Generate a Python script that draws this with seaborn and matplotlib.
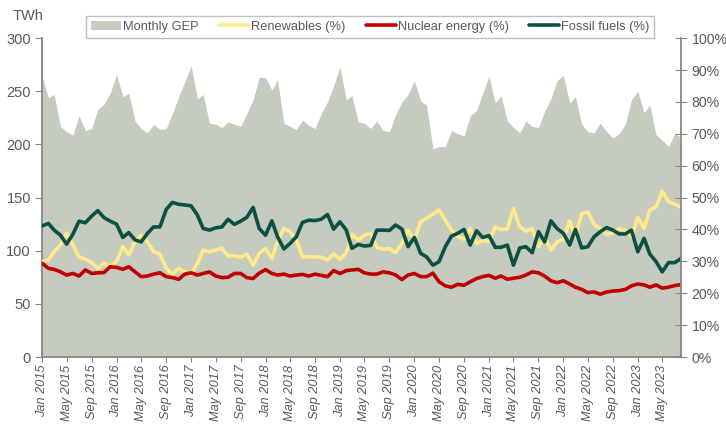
import numpy as np
import pandas as pd
import seaborn as sns
import matplotlib.pyplot as plt
from matplotlib.patches import Patch
from matplotlib.lines import Line2D

# Monthly data, Jan 2015 - Aug 2023
months = pd.date_range("2015-01-01", "2023-08-01", freq="MS")

gep_twh = [
    264, 244, 247, 217, 212, 209, 227, 213, 215, 233, 238, 248,
    266, 245, 248, 222, 215, 211, 219, 214, 215, 229, 245, 259,
    274, 243, 247, 220, 219, 216, 221, 219, 217, 229, 242, 263,
    263, 251, 261, 220, 217, 214, 223, 218, 215, 229, 240, 255,
    273, 242, 246, 221, 220, 215, 222, 213, 212, 228, 240, 247,
    260, 241, 237, 196, 198, 198, 213, 210, 208, 227, 232, 248,
    264, 239, 246, 222, 216, 211, 222, 217, 216, 231, 243, 260,
    265, 239, 245, 219, 212, 211, 220, 212, 206, 210, 219, 242,
    250, 230, 237, 209, 204, 198, 210, 207,
]

renewables_pct = [
    29.9, 30.4, 33.0, 35.1, 38.8, 35.1, 31.4, 30.7, 29.6, 27.8, 29.4, 28.5,
    29.9, 34.6, 32.0, 36.1, 38.2, 36.1, 33.0, 32.3, 27.8, 25.9, 27.8, 26.7,
    25.9, 29.4, 33.5, 33.0, 33.5, 34.1, 31.7, 31.7, 31.3, 32.3, 28.8, 32.5,
    34.1, 30.9, 36.1, 40.3, 39.3, 36.7, 31.4, 31.4, 31.4, 31.3, 30.4, 32.3,
    30.6, 32.7, 38.5, 36.7, 38.2, 38.8, 34.4, 33.8, 34.0, 32.7, 35.6, 39.8,
    36.7, 42.4, 43.5, 44.8, 46.1, 42.9, 39.8, 37.9, 36.9, 40.3, 35.6, 36.5,
    36.3, 40.8, 40.0, 40.1, 46.6, 40.8, 39.5, 40.3, 34.6, 37.7, 33.5, 36.1,
    36.9, 42.7, 37.7, 45.0, 45.5, 41.6, 40.3, 38.6, 38.8, 40.3, 39.8, 37.7,
    43.8, 40.3, 46.1, 47.1, 52.0, 48.7, 48.0, 46.9,
]

nuclear_pct = [
    29.4, 27.8, 27.5, 26.7, 25.7, 26.2, 25.4, 27.3, 26.2, 26.4, 26.5, 28.3,
    28.1, 27.5, 28.3, 26.7, 25.2, 25.4, 26.0, 26.4, 25.2, 24.9, 24.4, 26.0,
    26.4, 25.7, 26.2, 26.7, 25.4, 24.9, 25.0, 26.2, 26.2, 24.9, 24.6, 26.3,
    27.4, 26.2, 25.7, 26.0, 25.4, 25.7, 25.9, 25.4, 26.0, 25.6, 25.2, 27.1,
    26.2, 27.1, 27.3, 27.5, 26.4, 26.0, 26.0, 26.7, 26.4, 25.7, 24.3, 25.7,
    26.2, 25.2, 25.2, 26.3, 23.6, 22.3, 21.9, 22.8, 22.5, 23.6, 24.6, 25.2,
    25.6, 24.7, 25.4, 24.4, 24.7, 25.0, 25.7, 26.7, 26.4, 25.4, 23.9, 23.3,
    23.9, 22.9, 21.9, 21.2, 20.2, 20.4, 19.7, 20.4, 20.7, 20.8, 21.2, 22.3,
    22.9, 22.6, 21.9, 22.6, 21.6, 21.9, 22.4, 22.7,
]

fossil_pct = [
    41.1, 41.9, 39.8, 38.2, 35.4, 38.5, 42.6, 42.1, 44.2, 45.9, 43.7, 42.6,
    41.7, 37.5, 39.0, 36.7, 36.1, 38.8, 40.8, 40.8, 46.3, 48.5, 47.9, 47.7,
    47.4, 44.5, 40.3, 39.8, 40.5, 40.8, 43.2, 41.6, 42.6, 43.8, 46.9, 40.3,
    38.2, 42.7, 37.7, 33.9, 35.6, 37.7, 42.2, 42.9, 42.8, 43.2, 44.7, 40.1,
    42.4, 39.8, 34.1, 35.3, 34.8, 35.0, 39.8, 39.8, 39.7, 41.4, 40.1, 34.6,
    37.5, 32.5, 31.4, 28.8, 29.9, 34.6, 37.9, 38.8, 40.0, 35.1, 39.6, 37.5,
    38.1, 34.4, 34.4, 35.1, 28.8, 34.2, 34.6, 32.7, 39.3, 36.1, 42.7, 40.3,
    38.8, 35.1, 40.0, 34.2, 34.6, 37.7, 39.3, 40.6, 39.8, 38.6, 38.6, 39.8,
    33.0, 37.2, 32.3, 29.9, 26.7, 29.6, 29.6, 30.9,
]

df = pd.DataFrame({
    "month": months,
    "gep": gep_twh,
    "renewables": renewables_pct,
    "nuclear": nuclear_pct,
    "fossil": fossil_pct,
})

sns.set_style("white")
plt.rcParams["font.family"] = ["Liberation Sans", "DejaVu Sans"]

area_color = "#c6cbc0"
ren_color = "#ffe98a"
nuc_color = "#c00000"
fos_color = "#0b5142"
axis_gray = "#868686"
text_gray = "#595959"

fig, ax = plt.subplots(figsize=(7.26, 4.24), dpi=100)
fig.subplots_adjust(left=0.058, right=0.938, bottom=0.158, top=0.910)

# GEP as an area on the left axis
ax.fill_between(df["month"], 0, df["gep"], color=area_color, linewidth=0)
ax.set_ylim(0, 300)
ax.set_yticks(range(0, 301, 50))
ax.set_xlim(months[0], months[-1])

# Shares on the right axis
ax2 = ax.twinx()
sns.lineplot(data=df, x="month", y="renewables", ax=ax2, color=ren_color, lw=2.6)
sns.lineplot(data=df, x="month", y="nuclear", ax=ax2, color=nuc_color, lw=2.6)
sns.lineplot(data=df, x="month", y="fossil", ax=ax2, color=fos_color, lw=2.6)
ax2.set_ylim(0, 100)
ax2.set_yticks(range(0, 101, 10))
ax2.set_yticklabels([f"{v}%" for v in range(0, 101, 10)])
ax2.set_xlim(months[0], months[-1])
ax2.set_xlabel("")
ax2.set_ylabel("")
ax.set_xlabel("")
ax.set_ylabel("")

tick_months = months[::4]
ax.set_xticks(tick_months)
ax.set_xticklabels([m.strftime("%b %Y") for m in tick_months],
                   rotation=90, fontstyle="italic")

for a in (ax, ax2):
    for s in a.spines.values():
        s.set_visible(False)
ax.spines["left"].set_visible(True)
ax.spines["bottom"].set_visible(True)
ax2.spines["right"].set_visible(True)
for s in (ax.spines["left"], ax.spines["bottom"], ax2.spines["right"]):
    s.set_color(axis_gray)
    s.set_linewidth(1.3)

ax.tick_params(axis="y", direction="out", length=5, color=axis_gray,
               labelcolor=text_gray, labelsize=10.5, left=True, pad=3)
ax.tick_params(axis="x", direction="inout", length=7, color=axis_gray,
               labelcolor=text_gray, labelsize=9.2, bottom=True, pad=2)
ax2.tick_params(axis="y", direction="inout", length=9, color=axis_gray,
                labelcolor=text_gray, labelsize=10.2, right=True, pad=3)

fig.text(0.017, 0.962, "TWh", color=text_gray, fontsize=10.5, ha="left", va="center")

handles = [
    Patch(facecolor=area_color, edgecolor="none"),
    Line2D([], [], color=ren_color, lw=2.6),
    Line2D([], [], color=nuc_color, lw=2.6),
    Line2D([], [], color=fos_color, lw=2.6),
]
labels = ["Monthly GEP", "Renewables (%)", "Nuclear energy (%)", "Fossil fuels (%)"]
leg = fig.legend(handles, labels, loc="center", bbox_to_anchor=(0.51, 0.937),
                 ncol=4, frameon=True, fancybox=False, fontsize=9.3,
                 handlelength=2.3, handletextpad=0.15, columnspacing=1.6,
                 borderpad=0.4, borderaxespad=0, labelcolor=text_gray)
leg.get_frame().set_edgecolor("#b0b0b0")
leg.get_frame().set_linewidth(1.0)

fig.savefig("out.png", dpi=100)
